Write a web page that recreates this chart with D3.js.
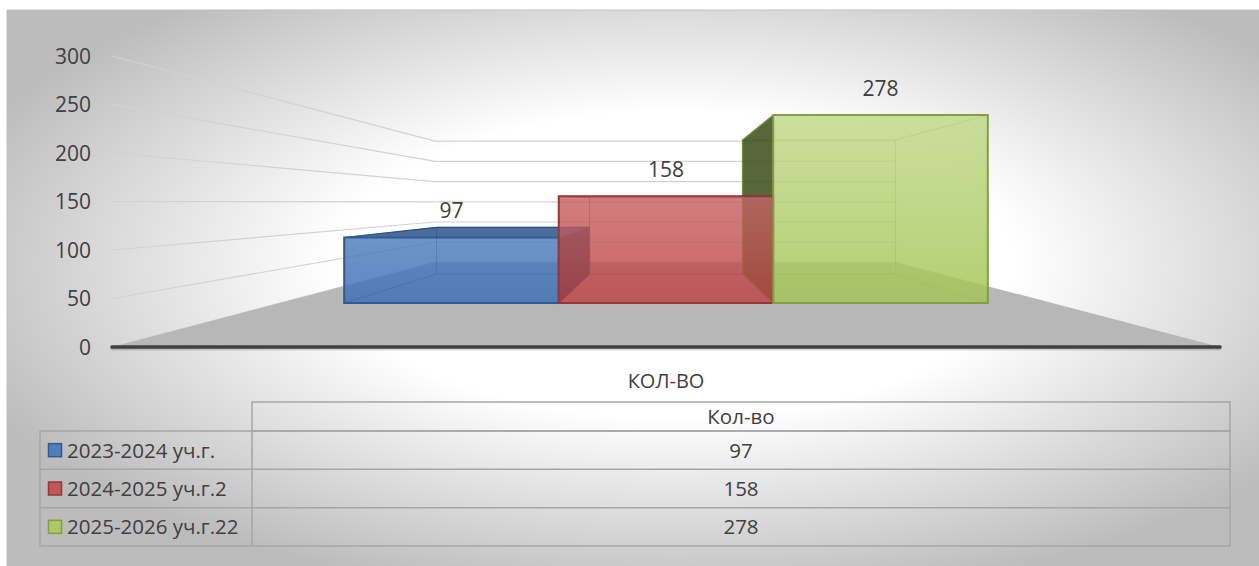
<!DOCTYPE html>
<html lang="ru">
<head>
<meta charset="utf-8">
<title>Кол-во</title>
<script src="https://cdn.jsdelivr.net/npm/d3@7"></script>
<style>
  body { margin: 0; background: #fff; }
  svg { display: block; }
  text { font-family: "Open Sans", "Noto Sans", sans-serif; fill: #404040; }
  .tick-label { font-size: 21px; }
  .data-label { font-size: 21px; }
  .cat-label { font-size: 20px; }
  .table-text { font-size: 20.5px; }
  .grid { stroke: #d2d2d2; stroke-width: 1.2; fill: none; }
  .table-line { stroke: #a6a6a6; stroke-width: 1.5; fill: none; }
</style>
</head>
<body>
<script>
// data
var categories = ["КОЛ-ВО"];
var tableHeader = "Кол-во";
var seriesNames = ["2023-2024 уч.г.", "2024-2025 уч.г.2", "2025-2026 уч.г.22"];
var values = [97, 158, 278];
var yTicks = [0, 50, 100, 150, 200, 250, 300];
var colors = ["#3e73ba", "#c24646", "#a8cb58"];

var W = 1259, H = 566;

// front plane of the 3d box
var plotLeft = 112, plotRight = 1220;
var yScale = d3.scaleLinear().domain([0, 300]).range([347, 56]);

// perspective: vanishing point + depth ratios
var vx = (plotLeft + plotRight) / 2, vy = 202;
var rFront = 1, rBarFront = 0.697, rBarBack = 0.497, rWall = 0.417;

function proj(X, Y, r) {
  return [vx + (X - vx) * r, vy + (Y - vy) * r];
}
function poly(pts) {
  return "M" + pts.map(function(p) { return p[0].toFixed(2) + "," + p[1].toFixed(2); }).join("L") + "Z";
}

var xCat = d3.scaleBand().domain(categories).range([plotLeft, plotRight]).paddingOuter(0.1);
var xSer = d3.scaleBand().domain(seriesNames)
  .range([xCat(categories[0]), xCat(categories[0]) + xCat.bandwidth()]);

var svg = d3.select("body").append("svg")
  .attr("width", W).attr("height", H);

var defs = svg.append("defs");
var bg = defs.append("radialGradient").attr("id", "bg")
  .attr("cx", 0.53).attr("cy", 0.45).attr("r", 0.6);
bg.append("stop").attr("offset", 0).attr("stop-color", "#ffffff");
bg.append("stop").attr("offset", 0.45).attr("stop-color", "#ffffff");
bg.append("stop").attr("offset", 1).attr("stop-color", "#bcbcbc");

// lighter top on the front faces, shared vertical range so short bars stay darker
var Y0 = yScale(0);
var gTop = proj(0, yScale(300), rBarFront)[1], gBot = proj(0, Y0, rBarFront)[1];
colors.forEach(function(c, i) {
  var g = defs.append("linearGradient").attr("id", "front" + i)
    .attr("gradientUnits", "userSpaceOnUse")
    .attr("x1", 0).attr("y1", gTop).attr("x2", 0).attr("y2", gBot);
  g.append("stop").attr("offset", 0).attr("stop-color", d3.interpolateRgb(c, "#fff")(0.35));
  g.append("stop").attr("offset", 1).attr("stop-color", d3.color(c).darker(0.1));
});

svg.append("rect")
  .attr("x", 7).attr("y", 10).attr("width", W).attr("height", H)
  .attr("fill", "url(#bg)")
  .attr("stroke", "#bfbfbf").attr("stroke-width", 1);

// gridlines: side wall + back wall
var grid = svg.append("g");
yTicks.forEach(function(v) {
  var Y = yScale(v);
  var a = proj(plotLeft, Y, rFront), b = proj(plotLeft, Y, rWall), c = proj(plotRight, Y, rWall);
  grid.append("path").attr("class", "grid")
    .attr("d", "M" + a + "L" + b + "L" + c);
});

// floor
svg.append("path")
  .attr("d", poly([proj(plotLeft, Y0, rFront), proj(plotRight, Y0, rFront),
                   proj(plotRight, Y0, rWall), proj(plotLeft, Y0, rWall)]))
  .attr("fill", "#b7b7b7");

// bars
var bars = seriesNames.map(function(s, i) {
  var X0 = xSer(s), X1 = xSer(s) + xSer.bandwidth(), Y1 = yScale(values[i]);
  var P = proj, f = rBarFront, k = rBarBack;
  return {
    i: i, X0: X0, X1: X1, Y1: Y1,
    faces: {
      back:   [P(X0, Y0, k), P(X1, Y0, k), P(X1, Y1, k), P(X0, Y1, k)],
      bottom: [P(X0, Y0, f), P(X1, Y0, f), P(X1, Y0, k), P(X0, Y0, k)],
      top:    [P(X0, Y1, f), P(X1, Y1, f), P(X1, Y1, k), P(X0, Y1, k)],
      left:   [P(X0, Y0, f), P(X0, Y1, f), P(X0, Y1, k), P(X0, Y0, k)],
      right:  [P(X1, Y0, f), P(X1, Y1, f), P(X1, Y1, k), P(X1, Y0, k)],
      front:  [P(X0, Y0, f), P(X1, Y0, f), P(X1, Y1, f), P(X0, Y1, f)]
    }
  };
});

// is the face seen from outside the box?
function outside(b, name) {
  if (name === "left") return vx < b.X0;
  if (name === "right") return vx > b.X1;
  if (name === "top") return b.Y1 > vy;
  return false;
}

var barG = svg.append("g");
// inner faces (seen through the front)
bars.forEach(function(b) {
  var c = colors[b.i];
  ["back", "bottom", "left", "right", "top"].forEach(function(n) {
    if (outside(b, n)) return;
    barG.append("path").attr("d", poly(b.faces[n]))
      .attr("fill", c).attr("fill-opacity", 0.3)
      .attr("stroke", d3.color(c).darker(0.6)).attr("stroke-opacity", 0.4).attr("stroke-width", 1);
  });
});
// outer side / top faces
bars.forEach(function(b) {
  var c = colors[b.i];
  ["left", "right", "top"].forEach(function(n) {
    if (!outside(b, n)) return;
    var dk = n === "top" ? 0.9 : 2.7;
    barG.append("path").attr("d", poly(b.faces[n]))
      .attr("fill", d3.color(c).darker(dk)).attr("fill-opacity", n === "top" ? 0.8 : 0.85)
      .attr("stroke", d3.color(c).darker(1)).attr("stroke-width", 1.2);
  });
});
// front faces
bars.forEach(function(b) {
  var c = colors[b.i];
  barG.append("path").attr("d", poly(b.faces.front))
    .attr("fill", "url(#front" + b.i + ")").attr("fill-opacity", 0.76)
    .attr("stroke", d3.color(c).darker(0.7)).attr("stroke-width", 2);
});

// data labels
svg.append("g").selectAll("text").data(bars).enter().append("text")
  .attr("class", "data-label")
  .attr("text-anchor", "middle")
  .attr("x", function(b) { return proj((b.X0 + b.X1) / 2, b.Y1, rBarFront)[0]; })
  .attr("y", function(b) { return proj((b.X0 + b.X1) / 2, b.Y1, rBarFront)[1] - 19; })
  .text(function(b) { return values[b.i]; });

// axis line
svg.append("line")
  .attr("x1", plotLeft).attr("x2", plotRight)
  .attr("y1", Y0 + 1.5).attr("y2", Y0 + 1.5)
  .attr("stroke", "#000").attr("stroke-opacity", 0.15).attr("stroke-width", 4).attr("stroke-linecap", "round");
svg.append("line")
  .attr("x1", plotLeft).attr("x2", plotRight)
  .attr("y1", Y0).attr("y2", Y0)
  .attr("stroke", "#404040").attr("stroke-width", 3.5).attr("stroke-linecap", "round");

// y tick labels
svg.append("g").selectAll("text").data(yTicks).enter().append("text")
  .attr("class", "tick-label")
  .attr("text-anchor", "end")
  .attr("x", 91)
  .attr("y", function(d) { return yScale(d); })
  .attr("dy", "0.36em")
  .text(function(d) { return d; });

// category label
svg.append("text").attr("class", "cat-label")
  .attr("text-anchor", "middle")
  .attr("x", xCat(categories[0]) + xCat.bandwidth() / 2)
  .attr("y", 388)
  .text(categories[0]);

// data table
var tLeft = 40, tMid = 252, tRight = 1230, tHeadTop = 402, tHeadBot = 431, tBot = 546;
var rows = d3.scaleBand().domain(seriesNames).range([tHeadBot, tBot]);
var tbl = svg.append("g");
tbl.append("rect").attr("class", "table-line")
  .attr("x", tMid).attr("y", tHeadTop).attr("width", tRight - tMid).attr("height", tHeadBot - tHeadTop);
tbl.append("rect").attr("class", "table-line")
  .attr("x", tLeft).attr("y", tHeadBot).attr("width", tRight - tLeft).attr("height", tBot - tHeadBot);
tbl.append("line").attr("class", "table-line")
  .attr("x1", tMid).attr("x2", tMid).attr("y1", tHeadBot).attr("y2", tBot);
seriesNames.slice(1).forEach(function(s) {
  tbl.append("line").attr("class", "table-line")
    .attr("x1", tLeft).attr("x2", tRight).attr("y1", rows(s)).attr("y2", rows(s));
});

var colCenter = (tMid + tRight) / 2;
tbl.append("text").attr("class", "table-text")
  .attr("text-anchor", "middle").attr("x", colCenter)
  .attr("y", (tHeadTop + tHeadBot) / 2).attr("dy", "0.36em")
  .text(tableHeader);

seriesNames.forEach(function(s, i) {
  var cy = rows(s) + rows.bandwidth() / 2;
  tbl.append("rect")
    .attr("x", 48.5).attr("y", cy - 6.5).attr("width", 13).attr("height", 13)
    .attr("fill", colors[i]).attr("fill-opacity", 0.85)
    .attr("stroke", d3.color(colors[i]).darker(0.7)).attr("stroke-width", 1.5);
  tbl.append("text").attr("class", "table-text")
    .attr("x", 67).attr("y", cy).attr("dy", "0.36em")
    .text(s);
  tbl.append("text").attr("class", "table-text")
    .attr("text-anchor", "middle").attr("x", colCenter)
    .attr("y", cy).attr("dy", "0.36em")
    .text(values[i]);
});
</script>
</body>
</html>
